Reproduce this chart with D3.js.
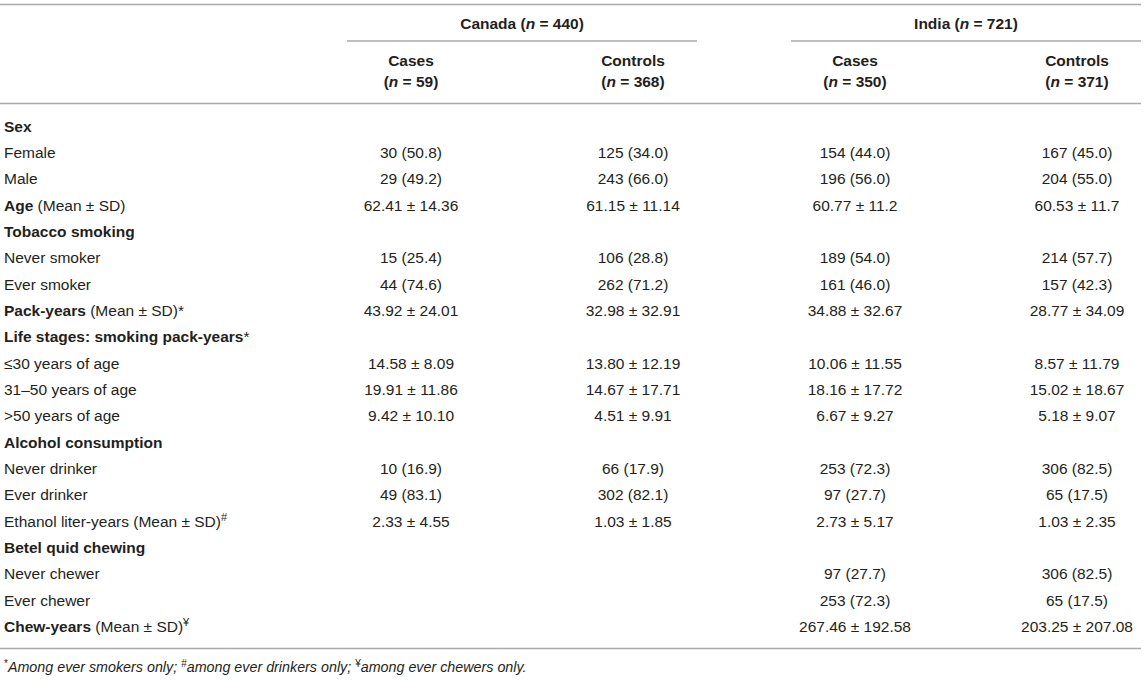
<!DOCTYPE html>
<html>
<head>
<meta charset="utf-8">
<script src="https://cdn.jsdelivr.net/npm/d3@7"></script>
<style>
  body { margin: 0; background: #fff; }
  svg text { font-family: "Liberation Sans", Arial, Helvetica, sans-serif; fill: #231f20; }
</style>
</head>
<body>
<div id="chart"></div>
<script>
// ---- table content ----
// ** marks bold text, ^ marks a superscript note
var rowLabels = [
  '**Sex**',
  'Female',
  'Male',
  '**Age** (Mean ± SD)',
  '**Tobacco smoking**',
  'Never smoker',
  'Ever smoker',
  '**Pack-years** (Mean ± SD)*',
  '**Life stages: smoking pack-years***',
  '≤30 years of age',
  '31–50 years of age',
  '>50 years of age',
  '**Alcohol consumption**',
  'Never drinker',
  'Ever drinker',
  'Ethanol liter-years (Mean ± SD)^#',
  '**Betel quid chewing**',
  'Never chewer',
  'Ever chewer',
  '**Chew-years** (Mean ± SD)^¥'
];

var canadaCases = ['', '30 (50.8)', '29 (49.2)', '62.41 ± 14.36', '', '15 (25.4)', '44 (74.6)',
  '43.92 ± 24.01', '', '14.58 ± 8.09', '19.91 ± 11.86', '9.42 ± 10.10', '', '10 (16.9)',
  '49 (83.1)', '2.33 ± 4.55', '', '', '', ''];
var canadaControls = ['', '125 (34.0)', '243 (66.0)', '61.15 ± 11.14', '', '106 (28.8)', '262 (71.2)',
  '32.98 ± 32.91', '', '13.80 ± 12.19', '14.67 ± 17.71', '4.51 ± 9.91', '', '66 (17.9)',
  '302 (82.1)', '1.03 ± 1.85', '', '', '', ''];
var indiaCases = ['', '154 (44.0)', '196 (56.0)', '60.77 ± 11.2', '', '189 (54.0)', '161 (46.0)',
  '34.88 ± 32.67', '', '10.06 ± 11.55', '18.16 ± 17.72', '6.67 ± 9.27', '', '253 (72.3)',
  '97 (27.7)', '2.73 ± 5.17', '', '97 (27.7)', '253 (72.3)', '267.46 ± 192.58'];
var indiaControls = ['', '167 (45.0)', '204 (55.0)', '60.53 ± 11.7', '', '214 (57.7)', '157 (42.3)',
  '28.77 ± 34.09', '', '8.57 ± 11.79', '15.02 ± 18.67', '5.18 ± 9.07', '', '306 (82.5)',
  '65 (17.5)', '1.03 ± 2.35', '', '306 (82.5)', '65 (17.5)', '203.25 ± 207.08'];

var columnKeys = ['canadaCases', 'canadaControls', 'indiaCases', 'indiaControls'];
var columnNames = ['Cases', 'Controls', 'Cases', 'Controls'];
var columnN = ['59', '368', '350', '371'];
var groupNames = ['Canada', 'India'];
var groupN = ['440', '721'];

var footnote = '^*Among ever smokers only; ^#among ever drinkers only; ^¥among ever chewers only.';

var columnValues = [canadaCases, canadaControls, indiaCases, indiaControls];

////////////////////////////////////////////////////////////////////////////////

var width = 1145,
    height = 680,
    fontSize = 15.5,
    noteSize = 14.3,
    lineColor = '#a7a9ac';

var svg = d3.select('#chart')
  .append('svg')
    .attr('width', width)
    .attr('height', height);

var x = d3.scalePoint()
    .domain(columnKeys)
    .range([411, 1077]);

var y = d3.scaleLinear()
    .domain([0, rowLabels.length - 1])
    .range([131.5, 632]);

// split a label into segments: bold (**..**) and superscript (^c)
function parseLabel(str) {
  var segs = [];
  str.split('**').forEach(function(part, i) {
    var bold = i % 2 === 1;
    var bits = part.split(/(\^.)/);
    bits.forEach(function(b) {
      if (b === '') return;
      if (b[0] === '^') segs.push({text: b.slice(1), bold: bold, sup: true});
      else segs.push({text: b, bold: bold, sup: false});
    });
  });
  return segs;
}

function writeSegs(sel, segs, size) {
  var raised = false;
  segs.forEach(function(s) {
    var t = sel.append('tspan')
      .text(s.text)
      .style('font-weight', s.bold ? 'bold' : 'normal');
    if (s.sup) {
      t.style('font-size', Math.round(size * 0.68) + 'px')
        .style('font-style', 'normal');
      if (!raised) { t.attr('dy', -size * 0.38); raised = true; }
    } else if (raised) {
      t.attr('dy', size * 0.38);
      raised = false;
    }
  });
}

// "(n = 59)" style text with an italic n
function writeN(sel, prefix, n) {
  sel.append('tspan').text(prefix + '(');
  sel.append('tspan').text('n').style('font-style', 'italic');
  sel.append('tspan').text(' = ' + n + ')');
}

// rules
function rule(x1, x2, yy) {
  svg.append('line')
    .attr('x1', x1).attr('x2', x2)
    .attr('y1', yy).attr('y2', yy)
    .attr('stroke', lineColor)
    .attr('stroke-width', 1.6);
}
rule(0, 1141, 4.5);
rule(0, 1141, 103.5);
rule(0, 1141, 648.5);

// group headers
groupNames.forEach(function(g, i) {
  var c1 = x(columnKeys[i * 2]),
      c2 = x(columnKeys[i * 2 + 1]),
      mid = (c1 + c2) / 2,
      half = (c2 - c1) / 2 + 64;
  rule(mid - half, mid + half, 41);
  var t = svg.append('text')
    .attr('x', mid)
    .attr('y', 29)
    .attr('text-anchor', 'middle')
    .style('font-size', fontSize + 'px')
    .style('font-weight', 'bold');
  writeN(t, g + ' ', groupN[i]);
});

// column headers
columnKeys.forEach(function(k, i) {
  svg.append('text')
    .attr('x', x(k))
    .attr('y', 66)
    .attr('text-anchor', 'middle')
    .style('font-size', fontSize + 'px')
    .style('font-weight', 'bold')
    .text(columnNames[i]);
  var t = svg.append('text')
    .attr('x', x(k))
    .attr('y', 87)
    .attr('text-anchor', 'middle')
    .style('font-size', fontSize + 'px')
    .style('font-weight', 'bold');
  writeN(t, '', columnN[i]);
});

// row labels
svg.append('g')
  .selectAll('text')
  .data(rowLabels)
  .enter()
    .append('text')
      .attr('x', 4)
      .attr('y', function(d, i) { return y(i); })
      .style('font-size', fontSize + 'px')
      .each(function(d) { writeSegs(d3.select(this), parseLabel(d), fontSize); });

// cell values
columnKeys.forEach(function(k, ci) {
  svg.append('g')
    .selectAll('text')
    .data(columnValues[ci])
    .enter()
      .append('text')
        .attr('x', x(k))
        .attr('y', function(d, i) { return y(i); })
        .attr('text-anchor', 'middle')
        .style('font-size', fontSize + 'px')
        .text(function(d) { return d; });
});

// footnote
var fn = svg.append('text')
  .attr('x', 4)
  .attr('y', 672)
  .style('font-size', noteSize + 'px')
  .style('font-style', 'italic');
writeSegs(fn, parseLabel(footnote), noteSize);
</script>
</body>
</html>
